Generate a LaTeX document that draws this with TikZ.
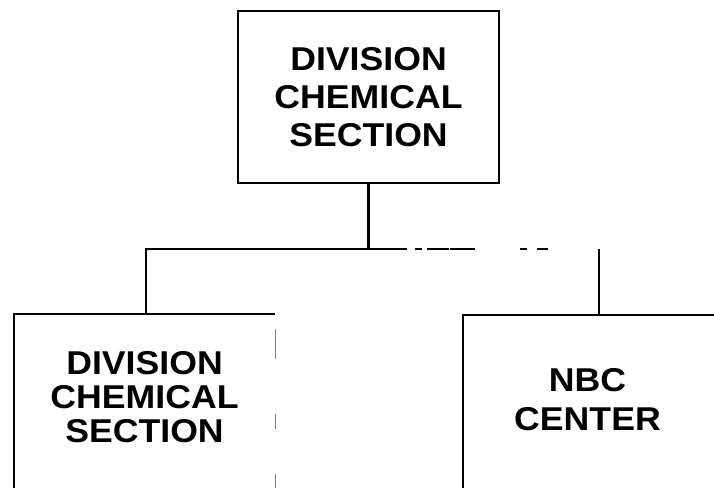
\documentclass[tikz,border=0pt]{standalone}
\usepackage{fontspec}
\setmainfont{Liberation Sans}[FakeStretch=1.08]
\begin{document}
\begin{tikzpicture}[x=1pt,y=-1pt,line width=2.3pt,
  lbl/.style={font=\bfseries\fontsize{33}{38}\selectfont,align=center,inner sep=0pt},
  boxd/.style={lbl,draw}]
\useasboundingbox (0,0) rectangle (714,487);
\clip (0,0) rectangle (714,487);
% top box
\node[boxd,minimum width=261pt,minimum height=172pt] (top) at (368.5,97) {DIVISION\\CHEMICAL\\SECTION};
% left box (text only; edges drawn below)
\node[lbl,font=\bfseries\fontsize{33}{34}\selectfont,minimum width=259pt,minimum height=164pt] (left) at (144.5,397) {DIVISION\\CHEMICAL\\SECTION};
% right box
\node[lbl,font=\bfseries\fontsize{33}{39}\selectfont,minimum width=247pt,minimum height=168pt] (right) at (587.5,400) {NBC\\CENTER};
% box edges
\draw (left.south west) ++(0,40) -- (left.north west) -- (left.north east);
\draw[line width=0.9pt,gray,dash pattern=on 30pt off 55pt on 15pt off 45pt on 15pt] (left.north east) ++(0,15) -- ++(0,180);
\draw (right.south west) ++(0,40) -- (right.north west) -- ++(270,0);
% connectors
\coordinate (jn) at (top.south |- 0,249);
\coordinate (lj) at (146,249);
\coordinate (rj) at (599,249);
\draw (top.south) -- (jn);
\draw (jn) -- (lj) -- (lj |- left.north);
\draw[dash pattern=on 38pt off 8pt on 7pt off 5pt on 22pt off 1pt on 25pt off 45pt on 7pt off 10pt on 11pt off 100pt] (jn) -- (rj);
\draw (rj) -- (rj |- right.north);
\end{tikzpicture}
\end{document}
